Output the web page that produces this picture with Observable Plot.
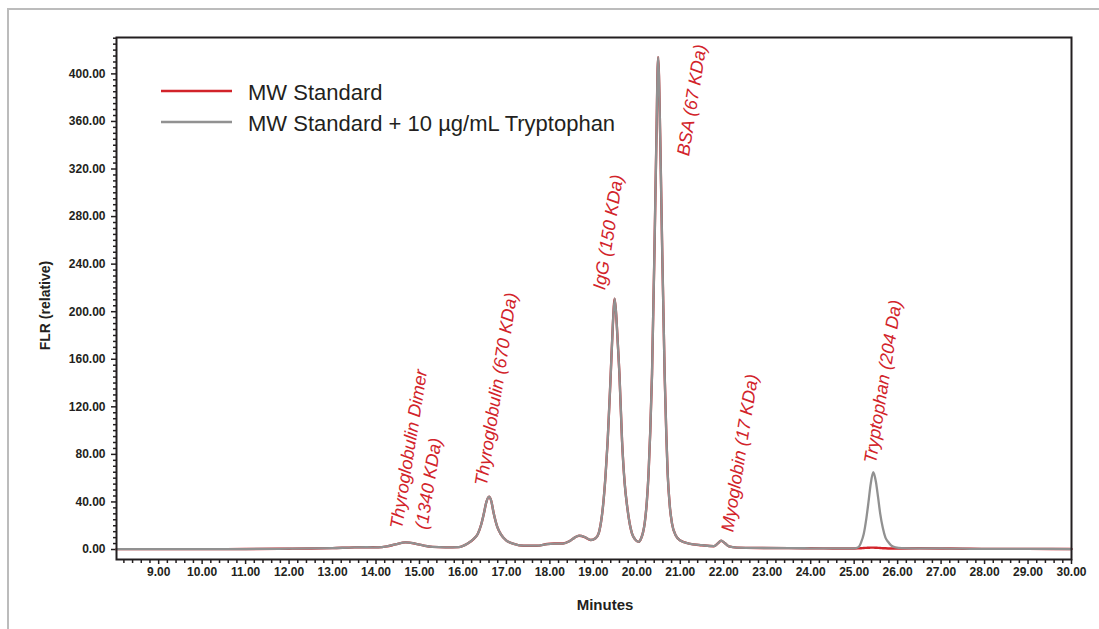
<!DOCTYPE html>
<html><head><meta charset="utf-8">
<script src="https://cdn.jsdelivr.net/npm/d3@7"></script>
<script src="https://cdn.jsdelivr.net/npm/@observablehq/plot@0.6"></script>
<style>
html,body{margin:0;padding:0;background:#fff;}
#wrap{position:relative;width:1099px;height:629px;overflow:hidden;font-family:"Liberation Sans",Arial,sans-serif;}
#border{position:absolute;left:7px;top:8px;width:1100px;height:640px;border-top:2px solid #bcbcbc;border-left:2px solid #bcbcbc;}
#chart{position:absolute;left:0;top:0;}
#legend{position:absolute;left:0;top:0;pointer-events:none;}
</style></head>
<body>
<div id="wrap"><div id="border"></div><div id="chart"></div><svg id="legend" width="1099" height="629"></svg></div>
<script>
// ---- data ----
const minutes = [
  8.03, 9, 10, 11, 12, 12.5, 13, 13.5, 13.8, 14.05,
  14.25, 14.45, 14.68, 14.9, 15.1, 15.3, 15.6, 15.9, 16.1, 16.25,
  16.34, 16.42, 16.48, 16.54, 16.6, 16.65, 16.71, 16.79, 16.87, 17.0,
  17.17, 17.4, 17.7, 17.94, 18.1, 18.3, 18.45, 18.57, 18.67, 18.8,
  18.94, 19.05, 19.12, 19.18, 19.22, 19.28, 19.33, 19.4, 19.45, 19.49,
  19.53, 19.56, 19.6, 19.66, 19.72, 19.78, 19.84, 19.89, 19.96, 20.04,
  20.1, 20.14, 20.18, 20.23, 20.27, 20.31, 20.35, 20.41, 20.45, 20.49,
  20.54, 20.58, 20.64, 20.68, 20.71, 20.76, 20.81, 20.9, 21.0, 21.2,
  21.5, 21.77, 21.86, 21.94, 22.02, 22.12, 22.3, 22.8, 23.5, 24,
  24.5, 25, 25.1, 25.16, 25.22, 25.28, 25.33, 25.38, 25.44, 25.5,
  25.55, 25.6, 25.66, 25.72, 25.78, 25.85, 25.95, 26.1, 26.5, 27,
  27.5, 28, 28.5, 29, 30
];
const mwStandardTrp = [
  0.3, 0.3, 0.3, 0.4, 0.7, 0.9, 1.2, 1.8, 1.9, 1.8,
  2.6, 4.3, 6.0, 5.0, 3.3, 2.2, 1.8, 2.0, 4.8, 9,
  13, 21, 30, 40, 44.5, 41, 30, 19, 13, 7.5,
  4.8, 3.2, 3.2, 4.6, 5.0, 5.0, 7.0, 10.0, 11.6, 10.5,
  8.0, 9.5, 13.4, 24, 35.6, 62, 91.7, 147.7, 190, 211,
  195, 175, 147.7, 91.7, 56, 35.6, 21, 13.4, 8.5, 6.4,
  9.5, 14, 21.8, 40, 63.7, 100, 147.7, 260, 344, 414,
  344, 260, 147.7, 95, 63.7, 36, 21.8, 11.5, 7.6, 5.0,
  3.6, 2.8, 5.0, 7.4, 5.5, 2.6, 1.6, 1.3, 1.2, 1.0,
  0.9, 0.9, 2, 6, 13, 26, 40, 55, 65, 57,
  44, 30, 18, 10, 6.5, 3.5, 1.8, 1.2, 1.0, 0.9,
  0.7, 0.5, 0.5, 0.5, 0.4
];
const mwStandard = [
  0.3, 0.3, 0.3, 0.4, 0.7, 0.9, 1.2, 1.8, 1.9, 1.8,
  2.6, 4.3, 6.0, 5.0, 3.3, 2.2, 1.8, 2.0, 4.8, 9,
  13, 21, 30, 40, 44.5, 41, 30, 19, 13, 7.5,
  4.8, 3.2, 3.2, 4.6, 5.0, 5.0, 7.0, 10.0, 11.6, 10.5,
  8.0, 9.5, 13.4, 24, 35.6, 62, 91.7, 147.7, 190, 211,
  195, 175, 147.7, 91.7, 56, 35.6, 21, 13.4, 8.5, 6.4,
  9.5, 14, 21.8, 40, 63.7, 100, 147.7, 260, 344, 414,
  344, 260, 147.7, 95, 63.7, 36, 21.8, 11.5, 7.6, 5.0,
  3.6, 2.8, 5.0, 7.4, 5.5, 2.6, 1.6, 1.3, 1.2, 1.0,
  0.9, 0.9, 1.0, 1.1, 1.3, 1.4, 1.5, 1.6, 1.6, 1.5,
  1.4, 1.3, 1.1, 1.0, 0.9, 0.8, 0.8, 0.9, 1.0, 0.9,
  0.7, 0.5, 0.5, 0.5, 0.4
];
const seriesNames = ["MW Standard", "MW Standard + 10 µg/mL Tryptophan"];
const peakLabels = ["Thyroglobulin Dimer", "(1340 KDa)", "Thyroglobulin (670 KDa)", "IgG (150 KDa)", "BSA (67 KDa)", "Myoglobin (17 KDa)", "Tryptophan (204 Da)"];
const peakLabelMinutes = [14.6, 15.18, 16.55, 19.27, 21.2, 22.22, 25.5];
const peakLabelValues = [16.8, 16.5, 53, 217.8, 330.5, 14.3, 72];
const xTickValues = d3.range(9, 31, 1);
const xMinorTicks = d3.range(8.2, 30.01, 0.2).filter(v => Math.abs(v - Math.round(v)) > 0.01);
const yTickValues = d3.range(0, 401, 40);
const yMinorTicks = d3.range(0, 431, 5).filter(v => v % 40 !== 0);
const xTitle = "Minutes";
const yTitle = "FLR (relative)";

// ---- build tables ----
const redRows = minutes.map((t, i) => ({t, v: mwStandard[i]}));
const grayRows = minutes.map((t, i) => ({t, v: mwStandardTrp[i]}));
const labelRows = peakLabels.map((text, i) => ({text, t: peakLabelMinutes[i], v: peakLabelValues[i]}));

const ink = "#231f20";
const red = "#d2232a";
const gray = "#919191";

const chart = Plot.plot({
  width: 1099, height: 629,
  marginLeft: 116, marginRight: 28, marginTop: 37, marginBottom: 70,
  style: {fontFamily: "'Liberation Sans', Arial, sans-serif", fontSize: "12px", fontWeight: "bold", color: ink, background: "transparent"},
  x: {domain: [8.03, 30]},
  y: {domain: [-8.4, 430.6]},
  marks: [
    Plot.axisX(xMinorTicks, {tickSize: 4, tickFormat: () => "", strokeWidth: 1.5, color: ink, label: null}),
    Plot.axisX(xTickValues, {tickSize: 5, tickPadding: 3, tickFormat: d => d.toFixed(2), strokeWidth: 1.5, color: ink, label: null}),
    Plot.axisY(yMinorTicks, {tickSize: 3, tickFormat: () => "", strokeWidth: 1.5, color: ink, label: null}),
    Plot.axisY(yTickValues, {tickSize: 5, tickPadding: 6, tickFormat: d => d.toFixed(2), strokeWidth: 1.5, color: ink, label: null}),
    Plot.line(redRows, {x: "t", y: "v", stroke: red, strokeWidth: 2.4, curve: "monotone-x"}),
    Plot.line(grayRows, {x: "t", y: "v", stroke: gray, strokeWidth: 2.3, curve: "monotone-x"}),
    Plot.text(labelRows, {x: "t", y: "v", text: "text", rotate: -81, textAnchor: "start", lineAnchor: "bottom",
      fill: red, fontSize: 18, fontStyle: "italic", fontWeight: "normal"}),
    Plot.frame({stroke: ink, strokeWidth: 2}),
    Plot.text([xTitle], {text: d => d, frameAnchor: "bottom", lineAnchor: "middle", textAnchor: "middle", dx: 11, dy: 46, fontSize: 15, fontWeight: "bold", fill: ink}),
    Plot.text([yTitle], {text: d => d, frameAnchor: "left", lineAnchor: "middle", textAnchor: "middle", rotate: -90, dx: -71, dy: 7, fontSize: 14, fontWeight: "bold", fill: ink})
  ]
});
document.getElementById("chart").appendChild(chart);

// ---- legend ----
const legendColors = [red, gray];
const leg = d3.select("#legend");
seriesNames.forEach((name, i) => {
  const y = 91 + i * 31;
  leg.append("line").attr("x1", 161).attr("x2", 232).attr("y1", y).attr("y2", y)
    .attr("stroke", legendColors[i]).attr("stroke-width", 2.5);
  leg.append("text").attr("x", 248).attr("y", y + 9).text(name)
    .attr("font-family", "'Liberation Sans', Arial, sans-serif").attr("font-size", 22).attr("fill", ink);
});
</script>
</body></html>
